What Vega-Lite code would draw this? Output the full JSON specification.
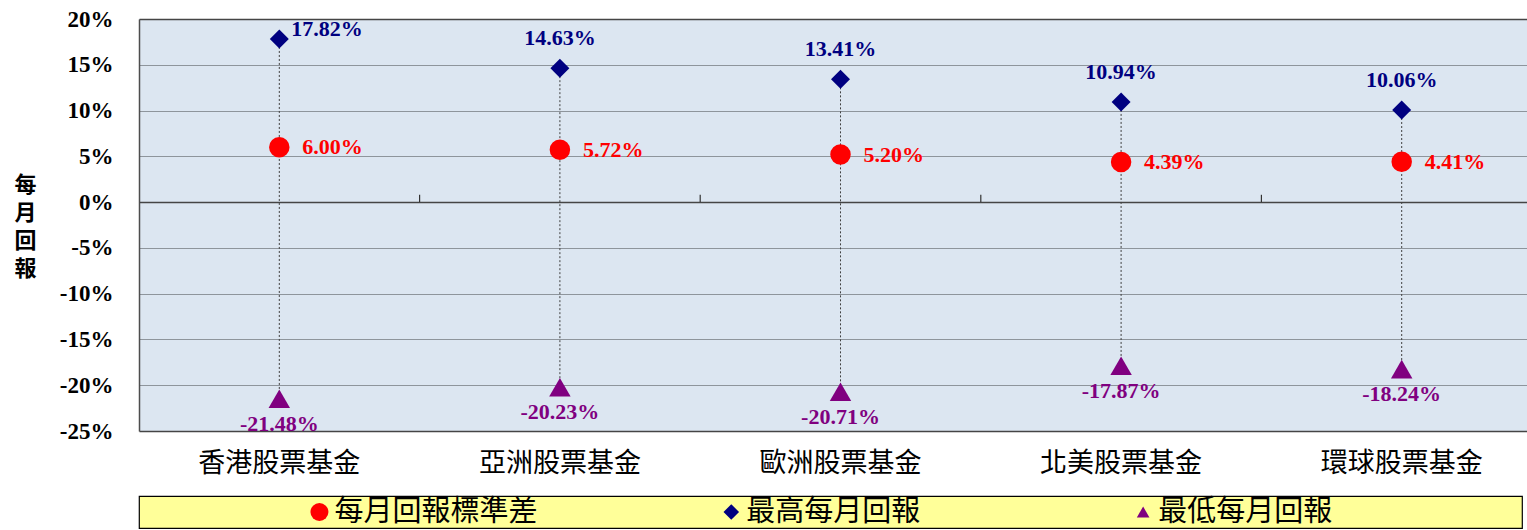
{
  "$schema": "https://vega.github.io/schema/vega-lite/v6.json",
  "padding": {"left": 13, "top": 8, "right": 0, "bottom": 0},
  "background": "#FFFFFF",
  "config": {
    "locale": {"number": {"decimal": ".", "thousands": ",", "grouping": [3], "currency": ["$", ""], "minus": "-"}},
    "view": {"stroke": null}
  },
  "datasets": {
    "funds": [
      {"fund": "香港股票基金", "std": 0.0600, "max": 0.1782, "min": -0.2148},
      {"fund": "亞洲股票基金", "std": 0.0572, "max": 0.1463, "min": -0.2023},
      {"fund": "歐洲股票基金", "std": 0.0520, "max": 0.1341, "min": -0.2071},
      {"fund": "北美股票基金", "std": 0.0439, "max": 0.1094, "min": -0.1787},
      {"fund": "環球股票基金", "std": 0.0441, "max": 0.1006, "min": -0.1824}
    ],
    "legend": [
      {"series": "每月回報標準差"},
      {"series": "最高每月回報"},
      {"series": "最低每月回報"}
    ]
  },
  "bounds": "flush",
  "spacing": 65,
  "vconcat": [
    {
      "width": 1388,
      "height": 412,
      "data": {"name": "funds"},
      "view": {"fill": "#DCE6F1", "stroke": null},
      "encoding": {
        "x": {
          "field": "fund", "type": "nominal", "sort": null,
          "scale": {"type": "band", "range": [0, 1403], "paddingInner": 0, "paddingOuter": 0},
          "axis": {
            "title": null, "domain": false, "ticks": false, "grid": false, "labelAngle": 0,
            "labelFont": "Noto Sans CJK TC", "labelFontSize": 27, "labelColor": "#000000", "labelPadding": 19
          }
        }
      },
      "layer": [
        {
          "mark": {"type": "rule", "color": "#404040", "strokeWidth": 1, "strokeDash": [2, 2]},
          "encoding": {
            "y": {
              "field": "max", "type": "quantitative",
              "scale": {"domain": [-0.25, 0.2], "nice": false, "zero": false},
              "axis": {
                "values": [-0.25, -0.2, -0.15, -0.1, -0.05, 0, 0.05, 0.1, 0.15, 0.2],
                "format": ".0%",
                "title": ["每", "月", "回", "報"],
                "titleFont": "Noto Sans CJK TC", "titleFontSize": 22, "titleFontWeight": "bold",
                "titleColor": "#000000", "titleAngle": 0, "titleAlign": "center", "titleBaseline": "middle",
                "titleLineHeight": 28, "titleX": -114, "titleY": 165,
                "labelFont": "Liberation Serif", "labelFontWeight": "bold", "labelFontSize": 23,
                "labelColor": "#000000", "labelPadding": 26, "labelFlush": false,
                "ticks": false,
                "domain": true, "domainColor": "#4D4D4D", "domainWidth": 1.5,
                "grid": true,
                "gridColor": {"condition": {"test": "datum.value === 0 || datum.value === 0.2 || datum.value === -0.25", "value": "#454545"}, "value": "#8E959C"},
                "gridWidth": {"condition": {"test": "datum.value === 0 || datum.value === 0.2 || datum.value === -0.25", "value": 1.6}, "value": 1}
              }
            },
            "y2": {"field": "min"}
          }
        },
        {
          "transform": [{"filter": "datum.fund !== '香港股票基金'"}],
          "mark": {"type": "rule", "color": "#333333", "strokeWidth": 1.2},
          "encoding": {
            "x": {"field": "fund", "type": "nominal", "sort": null, "bandPosition": 0},
            "y": {"datum": 0, "type": "quantitative"},
            "y2": {"datum": 0.008}
          }
        },
        {
          "mark": {"type": "point", "shape": "circle", "filled": true, "opacity": 1, "size": 420, "color": "#FF0000"},
          "encoding": {"y": {"field": "std", "type": "quantitative"}}
        },
        {
          "mark": {"type": "point", "shape": "diamond", "filled": true, "opacity": 1, "size": 360, "color": "#000080"},
          "encoding": {"y": {"field": "max", "type": "quantitative"}}
        },
        {
          "mark": {"type": "point", "shape": "triangle-up", "filled": true, "opacity": 1, "size": 460, "color": "#800080"},
          "encoding": {"y": {"field": "min", "type": "quantitative"}}
        },
        {
          "mark": {"type": "text", "align": "left", "baseline": "middle", "dx": 23, "font": "Liberation Serif", "fontWeight": "bold", "fontSize": 22, "color": "#FF0000"},
          "encoding": {
            "y": {"field": "std", "type": "quantitative"},
            "text": {"field": "std", "type": "quantitative", "format": ".2%"}
          }
        },
        {
          "transform": [{"filter": "datum.fund !== '香港股票基金'"}],
          "mark": {"type": "text", "align": "center", "baseline": "middle", "dy": -30, "font": "Liberation Serif", "fontWeight": "bold", "fontSize": 22, "color": "#000080"},
          "encoding": {
            "y": {"field": "max", "type": "quantitative"},
            "text": {"field": "max", "type": "quantitative", "format": ".2%"}
          }
        },
        {
          "transform": [{"filter": "datum.fund === '香港股票基金'"}],
          "mark": {"type": "text", "align": "left", "baseline": "middle", "dx": 12, "dy": -10, "font": "Liberation Serif", "fontWeight": "bold", "fontSize": 22, "color": "#000080"},
          "encoding": {
            "y": {"field": "max", "type": "quantitative"},
            "text": {"field": "max", "type": "quantitative", "format": ".2%"}
          }
        },
        {
          "mark": {"type": "text", "align": "center", "baseline": "middle", "dy": 25, "font": "Liberation Serif", "fontWeight": "bold", "fontSize": 22, "color": "#800080"},
          "encoding": {
            "y": {"field": "min", "type": "quantitative"},
            "text": {"field": "min", "type": "quantitative", "format": ".2%"}
          }
        }
      ]
    },
    {
      "width": 1383,
      "height": 32,
      "data": {"name": "legend"},
      "view": {"fill": "#FFFF99", "stroke": "#000000", "strokeWidth": 1.2},
      "encoding": {
        "x": {
          "field": "series", "type": "nominal", "sort": null,
          "scale": {"type": "point", "padding": 0.679, "align": 0.3226},
          "axis": null
        }
      },
      "layer": [
        {
          "mark": {"type": "point", "filled": true, "opacity": 1},
          "encoding": {
            "shape": {"field": "series", "type": "nominal", "scale": {"domain": ["每月回報標準差", "最高每月回報", "最低每月回報"], "range": ["circle", "diamond", "triangle-up"]}, "legend": null},
            "color": {"field": "series", "type": "nominal", "scale": {"domain": ["每月回報標準差", "最高每月回報", "最低每月回報"], "range": ["#FF0000", "#000080", "#800080"]}, "legend": null},
            "size": {"field": "series", "type": "ordinal", "scale": {"domain": ["每月回報標準差", "最高每月回報", "最低每月回報"], "range": [324, 160, 230]}, "legend": null}
          }
        },
        {
          "mark": {"type": "text", "align": "left", "baseline": "middle", "dx": 15, "font": "Noto Sans CJK TC", "fontSize": 29, "color": "#000000"},
          "encoding": {"text": {"field": "series", "type": "nominal"}}
        }
      ]
    }
  ]
}
